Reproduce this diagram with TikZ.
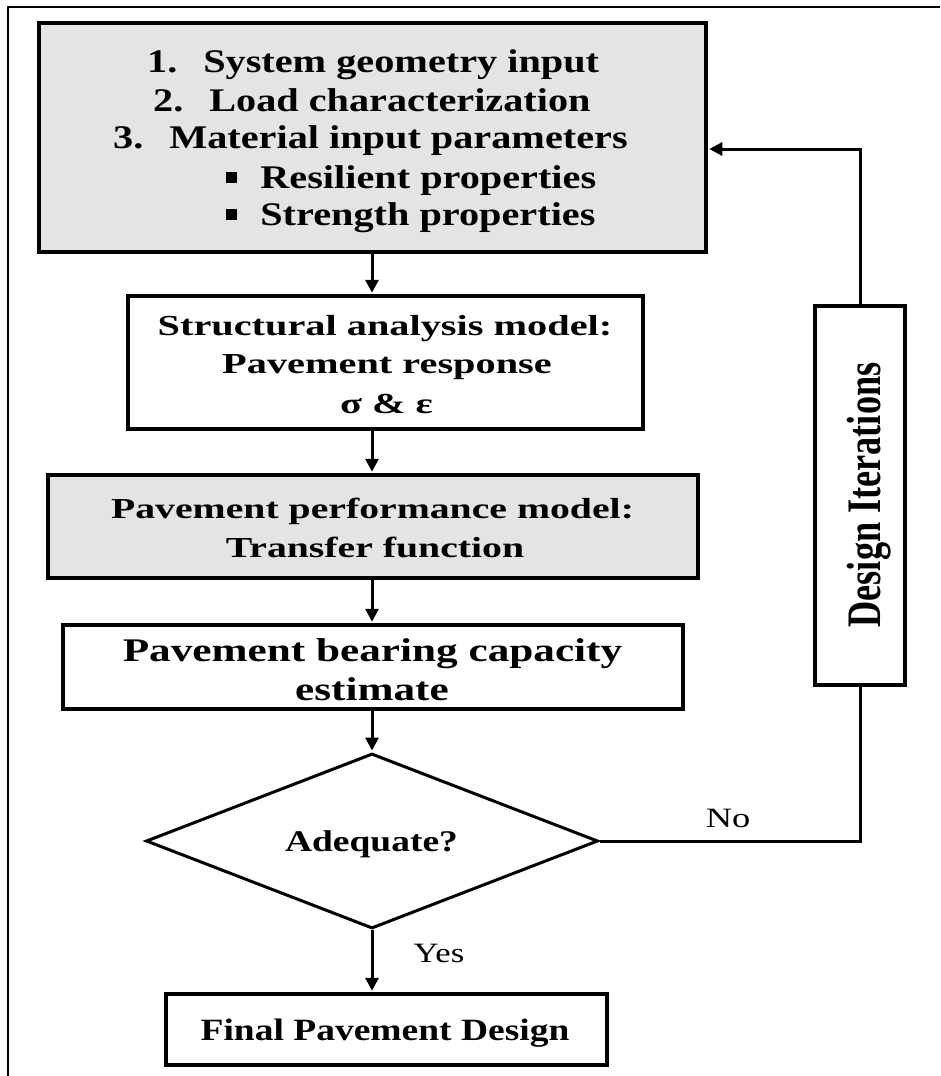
\documentclass[tikz,border=0pt]{standalone}
\usepackage{fontspec}
\setmainfont{Liberation Serif}
\usepackage{graphicx}
\usetikzlibrary{arrows.meta,shapes.geometric}
\definecolor{boxgray}{HTML}{E4E4E4}
\newcommand{\fsz}[1]{\fontsize{#1}{#1}\selectfont}
\begin{document}
\begin{tikzpicture}[x=1pt,y=-1pt,
  box/.style={draw, line width=3.5pt, inner sep=0pt, rectangle},
  shaded/.style={box, fill=boxgray},
  conn/.style={line width=3pt},
  arr/.style={conn, -{Triangle[length=13pt,width=13pt]}, shorten >=1.5pt},
  txt/.style={inner sep=0pt, anchor=base},
  txtw/.style={inner sep=0pt, anchor=base west},
]
\useasboundingbox (0,0) rectangle (940,1076);
% outer frame (left and top edges only)
\coordinate (frameBL) at (8,1076);
\coordinate (frameTR) at (940,7);
\draw[line width=2.5pt] (frameBL) |- (frameTR);

% boxes
\node[shaded, line width=4pt, minimum width=667pt, minimum height=229pt] (input) at (372.25,137.5) {};
\node[box, minimum width=515pt, minimum height=133pt] (struct) at (385.5,362.5) {};
\node[shaded, minimum width=650pt, minimum height=103pt] (perf) at (373,526.5) {};
\node[box, minimum width=620pt, minimum height=84pt] (bear) at (373,667) {};
\node[diamond, draw, line width=3pt, minimum width=452pt, minimum height=175pt, inner sep=0pt, aspect=2.58] (adeq) at (372,841) {};
\node[box, minimum width=441pt, minimum height=71pt] (final) at (386.5,1029.5) {};
\node[box, minimum width=90pt, minimum height=379pt] (iter) at (860,495.5) {};

% texts of the input box
\node[txtw] (in1) at (147,72) {\fsz{33}\bfseries\scalebox{1.22}[1]{\makebox[46pt][l]{1.}System geometry input}};
\node[txtw] (in2) at (153,111) {\fsz{33}\bfseries\scalebox{1.22}[1]{\makebox[46pt][l]{2.}Load characterization}};
\node[txtw] (in3) at (113,148) {\fsz{33}\bfseries\scalebox{1.22}[1]{\makebox[46pt][l]{3.}Material input parameters}};
\node[txtw] (in4) at (226,188) {\fsz{33}\bfseries\scalebox{1.22}[1]{\raisebox{5pt}{\rule{9pt}{11pt}}\hspace{19pt}Resilient properties}};
\node[txtw] (in5) at (226,225) {\fsz{33}\bfseries\scalebox{1.22}[1]{\raisebox{5pt}{\rule{9pt}{11pt}}\hspace{19pt}Strength properties}};

% structural analysis box
\node[txt] (s1) at (385,335) {\fsz{29}\bfseries\scalebox{1.39}[1]{Structural analysis model:}};
\node[txt] (s2) at (387,373) {\fsz{29}\bfseries\scalebox{1.39}[1]{Pavement response}};
\node[txt] (s3) at (386.5,413) {\fsz{29}\bfseries\scalebox{1.39}[1]{σ \& ε}};

% performance model box
\node[txt] (p1) at (372.5,518) {\fsz{29}\bfseries\scalebox{1.37}[1]{Pavement performance model:}};
\node[txt] (p2) at (375,557) {\fsz{29}\bfseries\scalebox{1.37}[1]{Transfer function}};

% bearing capacity box
\node[txt] (b1) at (372.5,661) {\fsz{33}\bfseries\scalebox{1.31}[1]{Pavement bearing capacity}};
\node[txt] (b2) at (372,700) {\fsz{33}\bfseries\scalebox{1.31}[1]{estimate}};

% decision and final
\node[txt] (adeqlabel) at (371.5,851) {\fsz{30}\bfseries\scalebox{1.25}[1]{Adequate?}};
\node[txt] (finallabel) at (385,1040) {\fsz{31}\bfseries\scalebox{1.21}[1]{Final Pavement Design}};
\node[txt] (yes) at (439,962) {\fsz{28}\scalebox{1.24}[1]{Yes}};
\node[txt] (no) at (728,827) {\fsz{28}\scalebox{1.3}[1]{No}};

% design iterations label
\node[txt, rotate=90] (iterlabel) at (880,495) {\fsz{37}\bfseries\scalebox{0.98}[1.3]{Design Iterations}};

% connectors
\coordinate (spine) at (372,0);
\coordinate (fb) at (0,149);
\draw[arr] (spine |- input.south) -- (spine |- struct.north);
\draw[arr] (spine |- struct.south) -- (spine |- perf.north);
\draw[arr] (spine |- perf.south) -- (spine |- bear.north);
\draw[arr] (spine |- bear.south) -- (adeq.north);
\draw[arr] (adeq.south) -- (spine |- final.north);
\draw[arr] (iter.north) |- (input.east |- fb);
\draw[conn] (iter.south) |- (adeq.east);
\end{tikzpicture}
\end{document}
